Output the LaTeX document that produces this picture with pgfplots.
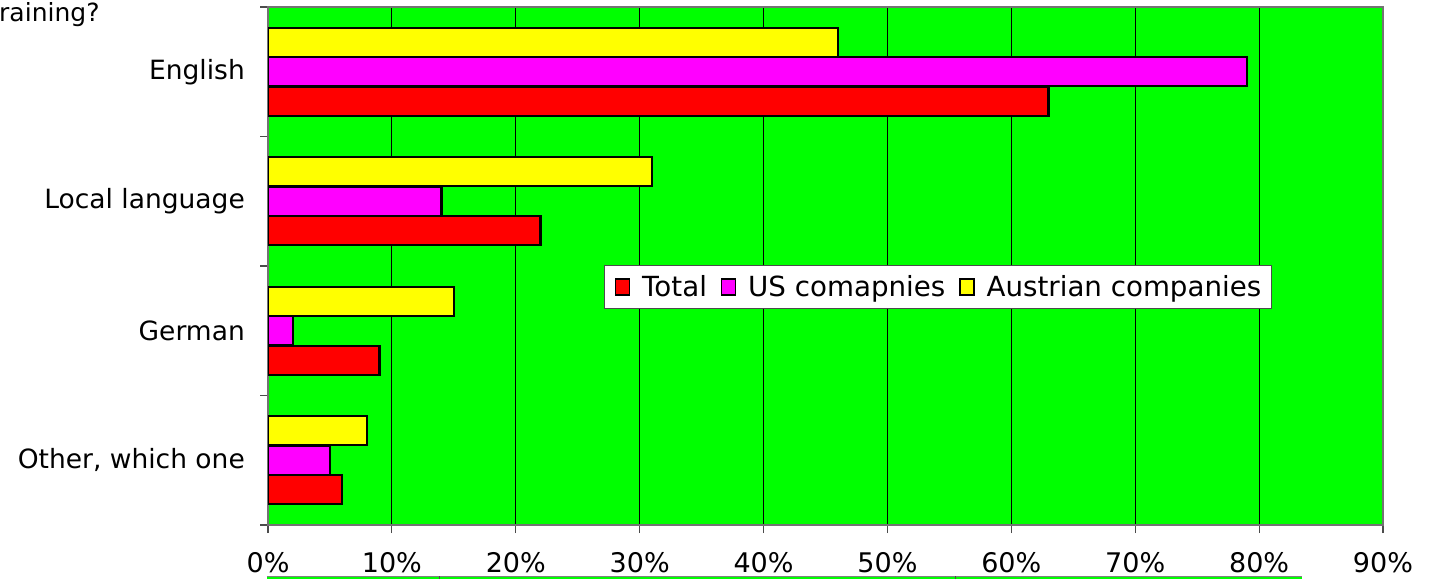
\documentclass[border=0pt]{standalone}
\usepackage{pgfplots}
\pgfplotsset{compat=1.18}
\usepackage{fontspec}
\setmainfont{DejaVu Sans}
\definecolor{bggreen}{RGB}{0,255,0}
\definecolor{cred}{RGB}{255,0,0}
\definecolor{cmag}{RGB}{255,0,255}
\definecolor{cyel}{RGB}{255,255,0}
\begin{document}
\begin{tikzpicture}
\path[use as bounding box] (0pt,0pt) rectangle (1431pt,579pt);
\node[anchor=base west, inner sep=0pt, font=\fontsize{25}{28}\selectfont] at (-1pt,557pt) {raining?};
% artifact strip at the bottom
\fill[bggreen] (267pt,0pt) rectangle (1302pt,3pt);
\draw[black!50, line width=1pt] (267pt,3pt) -- (1302pt,3pt);
\draw[black!70, line width=1pt] (439pt,0pt) -- (439pt,3pt);
\draw[black!70, line width=1pt] (955pt,0pt) -- (955pt,3pt);
\begin{axis}[
  at={(268pt,54pt)}, anchor=south west,
  width=1115pt, height=518pt, scale only axis,
  axis background/.style={fill=bggreen},
  xbar, bar width=29pt,
  xmin=0, xmax=90, ymin=-0.5, ymax=3.5,
  xtick={0,10,...,90},
  xticklabel={\pgfmathprintnumber{\tick}\%},
  /pgf/number format/assume math mode=true,
  xmajorgrids, major grid style={black, line width=1pt},
  ytick={-0.5,0.5,1.5,2.5,3.5}, yticklabels={},
  extra y ticks={0,1,2,3},
  extra y tick labels={{Other, which one},German,Local language,English},
  extra y tick style={major tick length=0pt, grid=none,
     yticklabel style={anchor=east, inner sep=0pt, xshift=-23pt}},
  tick align=outside, major tick length=8pt,
  xtick pos=bottom, ytick pos=left,
  tick style={black!70, line width=1.2pt},
  axis line style={black!55, line width=1.3pt},
  xticklabel style={anchor=north, inner sep=0pt, yshift=-19pt, font=\fontsize{27}{30}\selectfont},
  yticklabel style={font=\fontsize{26.5}{30}\selectfont},
  legend image code/.code={\draw[#1, line width=1.3pt] (0pt,-8pt) rectangle (14pt,8pt);},
  legend columns=3,
  legend style={at={(0.601,0.4595)}, anchor=center, draw=black!70, line width=1pt, fill=white,
    font=\fontsize{27.7}{30}\selectfont,
    inner xsep=10pt, inner ysep=10pt,
    nodes={inner sep=0pt},
    /tikz/every odd column/.append style={column sep=12pt},
    /tikz/every even column/.append style={column sep=14pt}},
]
\addplot[fill=cred, draw=black, line width=2.2pt, bar shift=-29.5pt] coordinates {(6,0) (9,1) (22,2) (63,3)};
\addlegendentry{Total}
\addplot[fill=cmag, draw=black, line width=2.2pt, bar shift=0pt] coordinates {(5,0) (2,1) (14,2) (79,3)};
\addlegendentry{US comapnies}
\addplot[fill=cyel, draw=black, line width=2.2pt, bar shift=29.5pt] coordinates {(8,0) (15,1) (31,2) (46,3)};
\addlegendentry{Austrian companies}
\end{axis}
\end{tikzpicture}
\end{document}
